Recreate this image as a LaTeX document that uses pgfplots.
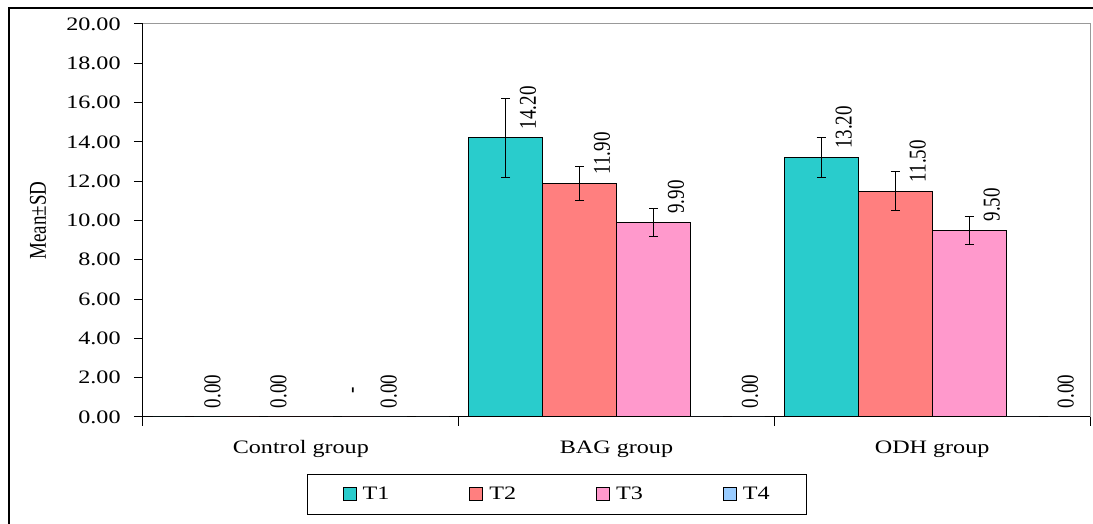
\documentclass[border=0pt]{standalone}
\usepackage{fontspec}
\setmainfont{Liberation Serif}
\usepackage{graphicx}
\usepackage{pgfplots}
\usepackage{pgfplotstable}
\pgfplotsset{compat=1.18}
\newcommand{\chartfont}{\fontsize{19}{23}\selectfont}
\newcommand{\labB}{\raisebox{6.3pt}{0.00}}
\newcommand{\labD}{\raisebox{36pt}{0.00}}
\newcommand{\dashlab}{\raisebox{7.6pt}{\hspace*{15pt}-}}
\definecolor{cT1}{HTML}{29CCCC}
\definecolor{cT2}{HTML}{FF7F7F}
\definecolor{cT3}{HTML}{FF99CC}
\definecolor{cT4}{HTML}{99CCFF}
\definecolor{framegray}{HTML}{999999}
\pgfplotstableread{
x y err lab
0 0    0    0.00
1 14.2 2.0  14.20
2 13.2 1.0  13.20
}\tA
\pgfplotstableread{
x y err lab
0 0    0    \labB
1 11.9 0.86 11.90
2 11.5 0.98 11.50
}\tB
\pgfplotstableread{
x y err lab
0 0    0    \dashlab
1 9.9  0.72 9.90
2 9.5  0.70 9.50
}\tC
\pgfplotstableread{
x y err lab
0 0 0 \labD
1 0 0 0.00
2 0 0 0.00
}\tD
\pgfplotsset{mybar/.style={fill=#1, draw=black, line width=1pt,
  error bars/y dir=both, error bars/y explicit,
  error bars/error bar style={line width=1pt, black},
  error bars/error mark options={rotate=90, mark size=4.5pt, line width=1pt, black},
  legend image code/.code={\draw[fill=#1, draw=black, line width=1pt] (0pt,-6.5pt) rectangle (13pt,6.5pt);}}}
\begin{document}
\chartfont
\begin{tikzpicture}
\useasboundingbox (-143pt,-107pt) rectangle (950pt,417pt);
\clip (-143pt,-107pt) rectangle (950pt,417pt);
\draw[line width=1.5pt, black] (-134pt,409pt) rectangle (1100pt,-200pt);
\begin{axis}[
  at={(0pt,0pt)}, anchor=south west,
  scale only axis, width=947pt, height=393pt,
  xmin=-0.5, xmax=2.5, ymin=0, ymax=20,
  ybar=0pt, bar width=74pt,
  axis x line*=bottom, axis y line*=left,
  axis line style={-, black, line width=1pt},
  tick align=outside, major tick length=9pt,
  tick style={black, line width=1pt},
  ytick={0,2,...,20},
  xtick={-0.5,0.5,1.5,2.5}, xticklabels={},
  extra x ticks={0,1,2},
  extra x tick labels={Control group, BAG group, ODH group},
  extra x tick style={major tick length=0pt},
  xticklabel style={font=\chartfont, xscale=1.27, yshift=-17pt},
  yticklabel style={font=\chartfont, xscale=1.27, xshift=-4pt,
    /pgf/number format/.cd, fixed, fixed zerofill, precision=2, assume math mode=true},
  every axis y label/.style={at={(axis description cs:-0.111,0.5)}, anchor=center, font=\chartfont, rotate=90},
  ylabel={\scalebox{1}[1.27]{Mean±SD}},
  nodes near coords={\scalebox{1}[1.27]{\raisebox{0pt}[0.7em][0pt]{\pgfplotspointmeta}}},
  point meta=explicit symbolic,
  every node near coord/.append style={font=\chartfont, xshift=22pt, yshift=2pt, rotate=90, anchor=west, black},
  legend columns=4,
  legend style={at={(0.1732,-0.197)}, anchor=west, draw=black, line width=1pt,
    font=\chartfont, inner xsep=35pt, inner ysep=10.5pt,
    /tikz/every odd column/.append style={column sep=4pt},
    /tikz/every even column/.append style={column sep=78pt}},
  after end axis/.code={\draw[framegray, line width=1pt] (rel axis cs:0,1) -- (rel axis cs:1,1) -- (rel axis cs:1,0);},
]
\addplot[mybar=cT1] table[x=x, y=y, y error=err, meta=lab] {\tA};
\addplot[mybar=cT2] table[x=x, y=y, y error=err, meta=lab] {\tB};
\addplot[mybar=cT3] table[x=x, y=y, y error=err, meta=lab] {\tC};
\addplot[mybar=cT4] table[x=x, y=y, y error=err, meta=lab] {\tD};
\legend{\scalebox{1.27}[1]{T1},\scalebox{1.27}[1]{T2},\scalebox{1.27}[1]{T3},\scalebox{1.27}[1]{T4}}
\end{axis}
\end{tikzpicture}
\end{document}
